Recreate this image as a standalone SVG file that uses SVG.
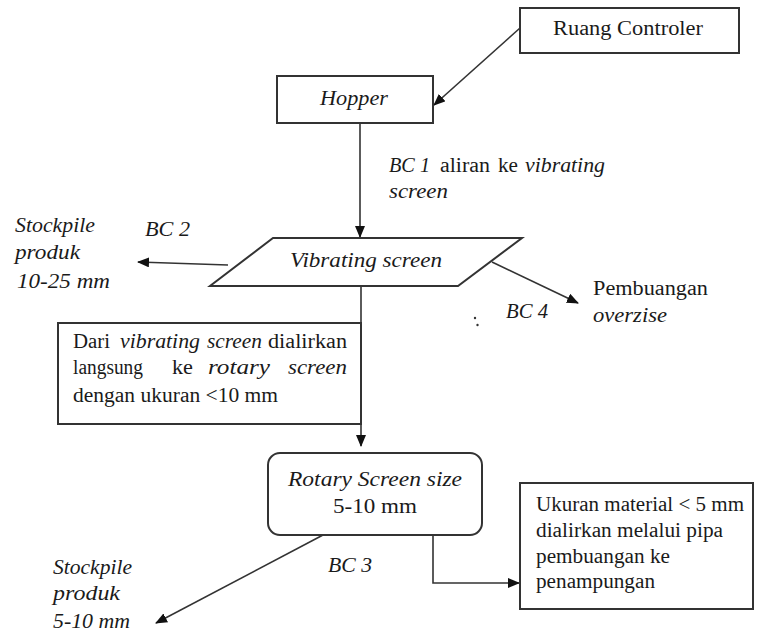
<svg xmlns="http://www.w3.org/2000/svg" width="758" height="634" viewBox="0 0 758 634">
<style>
text{font-family:"Liberation Serif","Times New Roman",serif;font-size:20px;fill:#1a1a1a}
.i{font-style:italic}
.box{fill:#fff;stroke:#333;stroke-width:2}
.con{fill:none;stroke:#333;stroke-width:1.6}
</style>
<defs>
<marker id="ah" markerWidth="12" markerHeight="10" refX="11" refY="5" orient="auto" markerUnits="userSpaceOnUse">
<path d="M0,0 L12,5 L0,10 Z" fill="#111"/>
</marker>
</defs>
<rect width="758" height="634" fill="#fff"/>
<g id="connectors">
<line class="con" x1="520" y1="28" x2="434" y2="105" marker-end="url(#ah)"/>
<line class="con" x1="360" y1="123" x2="360" y2="237" marker-end="url(#ah)"/>
<line class="con" x1="228" y1="265" x2="138" y2="262" marker-end="url(#ah)"/>
<line class="con" x1="492" y1="262" x2="578" y2="303" marker-end="url(#ah)"/>
<line class="con" x1="361" y1="286" x2="361" y2="446" marker-end="url(#ah)"/>
<line class="con" x1="323" y1="535" x2="156" y2="623" marker-end="url(#ah)"/>
<polyline class="con" points="433,535 433,583 519,583" marker-end="url(#ah)"/>
</g>
<g id="ruang-controler">
<rect class="box" x="520" y="8" width="219" height="45"/>
<text x="553" y="35" textLength="150" lengthAdjust="spacingAndGlyphs">Ruang Controler</text>
</g>
<g id="hopper">
<rect class="box" x="277" y="76" width="156" height="47"/>
<text class="i" x="320" y="105" textLength="68" lengthAdjust="spacingAndGlyphs">Hopper</text>
</g>
<g id="bc1-label">
<text class="i" x="389" y="172" textLength="41" lengthAdjust="spacingAndGlyphs">BC 1</text>
<text x="440" y="172" textLength="50" lengthAdjust="spacingAndGlyphs">aliran</text>
<text x="498" y="172" textLength="20" lengthAdjust="spacingAndGlyphs">ke</text>
<text class="i" x="525" y="172" textLength="80" lengthAdjust="spacingAndGlyphs">vibrating</text>
<text class="i" x="389" y="198" textLength="59" lengthAdjust="spacingAndGlyphs">screen</text>
</g>
<g id="vibrating-screen">
<polygon class="box" points="273,238 522,238 458,286 210,286"/>
<text class="i" x="290" y="267" textLength="152" lengthAdjust="spacingAndGlyphs">Vibrating screen</text>
</g>
<g id="stockpile-10-25">
<text class="i" x="15" y="232" textLength="80" lengthAdjust="spacingAndGlyphs">Stockpile</text>
<text class="i" x="15" y="259" textLength="65" lengthAdjust="spacingAndGlyphs">produk</text>
<text class="i" x="17" y="288" textLength="93" lengthAdjust="spacingAndGlyphs">10-25 mm</text>
<text class="i" x="145" y="236" textLength="45" lengthAdjust="spacingAndGlyphs">BC 2</text>
</g>
<g id="pembuangan-overzise">
<text x="593" y="295" textLength="115" lengthAdjust="spacingAndGlyphs">Pembuangan</text>
<text class="i" x="593" y="322" textLength="74" lengthAdjust="spacingAndGlyphs">overzise</text>
<text class="i" x="506" y="318" textLength="42" lengthAdjust="spacingAndGlyphs">BC 4</text>
<circle cx="475" cy="318" r="1.2" fill="#333"/>
<circle cx="477.5" cy="325" r="1.2" fill="#333"/>
</g>
<g id="text-box-vibrating">
<rect class="box" x="58" y="323" width="303" height="101"/>
<text x="73" y="348" textLength="37" lengthAdjust="spacingAndGlyphs">Dari</text>
<text class="i" x="120" y="348" textLength="80" lengthAdjust="spacingAndGlyphs">vibrating</text>
<text class="i" x="207" y="348" textLength="55" lengthAdjust="spacingAndGlyphs">screen</text>
<text x="268" y="348" textLength="79" lengthAdjust="spacingAndGlyphs">dialirkan</text>
<text x="73" y="374" textLength="70" lengthAdjust="spacingAndGlyphs">langsung</text>
<text x="172" y="374" textLength="21" lengthAdjust="spacingAndGlyphs">ke</text>
<text class="i" x="208" y="374" textLength="62" lengthAdjust="spacingAndGlyphs">rotary</text>
<text class="i" x="288" y="374" textLength="59" lengthAdjust="spacingAndGlyphs">screen</text>
<text x="73" y="402" textLength="205" lengthAdjust="spacingAndGlyphs">dengan ukuran &lt;10 mm</text>
</g>
<g id="rotary-screen">
<rect class="box" x="268" y="453" width="214" height="82" rx="12" ry="12"/>
<text class="i" x="288" y="486" textLength="174" lengthAdjust="spacingAndGlyphs">Rotary Screen size</text>
<text x="333" y="513" textLength="84" lengthAdjust="spacingAndGlyphs">5-10 mm</text>
</g>
<g id="stockpile-5-10">
<text class="i" x="53" y="574" textLength="79" lengthAdjust="spacingAndGlyphs">Stockpile</text>
<text class="i" x="53" y="600" textLength="67" lengthAdjust="spacingAndGlyphs">produk</text>
<text class="i" x="53" y="628" textLength="77" lengthAdjust="spacingAndGlyphs">5-10 mm</text>
<text class="i" x="328" y="572" textLength="44" lengthAdjust="spacingAndGlyphs">BC 3</text>
</g>
<g id="ukuran-box">
<rect class="box" x="520" y="483" width="233" height="126"/>
<text x="536" y="511" textLength="208" lengthAdjust="spacingAndGlyphs">Ukuran material &lt; 5 mm</text>
<text x="536" y="537" textLength="187" lengthAdjust="spacingAndGlyphs">dialirkan melalui pipa</text>
<text x="536" y="563" textLength="134" lengthAdjust="spacingAndGlyphs">pembuangan ke</text>
<text x="536" y="588" textLength="119" lengthAdjust="spacingAndGlyphs">penampungan</text>
</g>
</svg>
